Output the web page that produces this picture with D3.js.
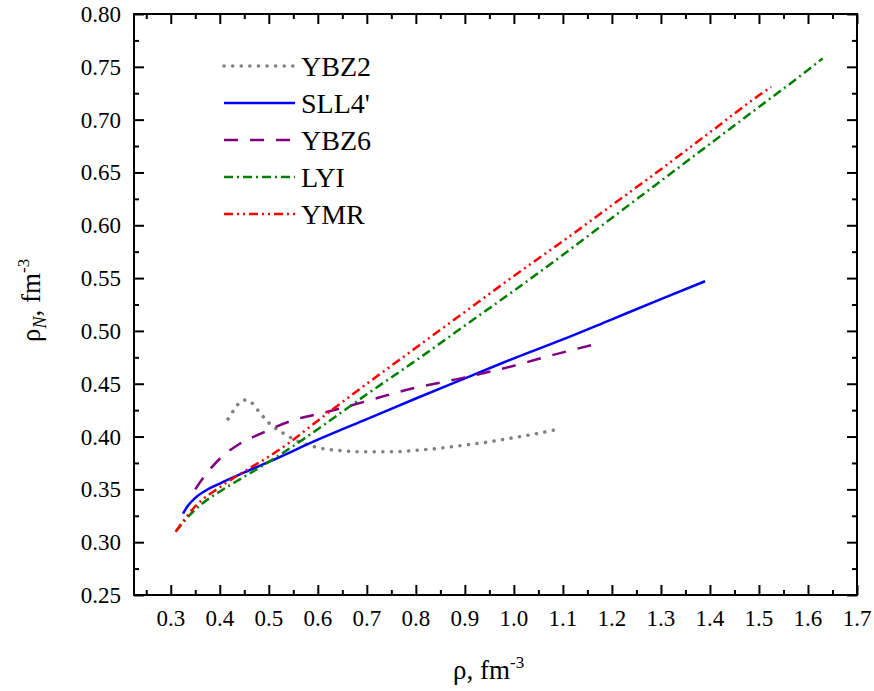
<!DOCTYPE html>
<html>
<head>
<meta charset="utf-8">
<script src="https://cdn.jsdelivr.net/npm/d3@7"></script>
</head>
<body style="margin:0">
<svg class="main" width="874" height="691"></svg>
<script>
// series values [rho, rho_N]
const ybz2 = [
  [0.417, 0.4166], [0.43, 0.426], [0.44, 0.432], [0.452, 0.4346], [0.465, 0.432],
  [0.48, 0.4235], [0.50, 0.413], [0.53, 0.403], [0.56, 0.3955], [0.60, 0.3895],
  [0.65, 0.3865], [0.70, 0.3855], [0.75, 0.3855], [0.80, 0.387], [0.85, 0.389],
  [0.90, 0.392], [0.95, 0.395], [1.00, 0.399], [1.05, 0.403], [1.09, 0.407]
];
const sll4 = [
  [0.325, 0.327], [0.335, 0.3345], [0.35, 0.342], [0.37, 0.3485], [0.40, 0.3555],
  [0.45, 0.366], [0.50, 0.376], [0.60, 0.397], [0.70, 0.4165],
  [0.80, 0.436], [0.90, 0.455], [1.00, 0.474], [1.10, 0.492], [1.20, 0.511],
  [1.30, 0.530], [1.39, 0.547]
];
const ybz6 = [
  [0.35, 0.350], [0.36, 0.357], [0.38, 0.369], [0.40, 0.379], [0.44, 0.393],
  [0.48, 0.402], [0.55, 0.4155], [0.62, 0.4235], [0.68, 0.431], [0.78, 0.444],
  [0.90, 0.456], [1.00, 0.467], [1.07, 0.476], [1.18, 0.489]
];
const lyi = [
  [0.31, 0.310], [0.35, 0.331], [0.40, 0.348], [0.45, 0.362], [0.50, 0.376],
  [0.55, 0.391], [0.60, 0.407], [0.70, 0.440], [0.80, 0.472], [0.90, 0.505],
  [1.00, 0.538], [1.10, 0.572], [1.20, 0.607], [1.30, 0.642], [1.40, 0.677],
  [1.50, 0.712], [1.60, 0.747], [1.63, 0.758]
];
const ymr = [
  [0.31, 0.310], [0.35, 0.334], [0.40, 0.352], [0.45, 0.367], [0.50, 0.381],
  [0.55, 0.397], [0.60, 0.415], [0.70, 0.450], [0.80, 0.484], [0.90, 0.518],
  [1.00, 0.552], [1.10, 0.585], [1.20, 0.619], [1.30, 0.653], [1.40, 0.688],
  [1.50, 0.723], [1.525, 0.731]
];

const seriesNames = ["YBZ2", "SLL4'", "YBZ6", "LYI", "YMR"];
const xTicks = [0.3, 0.4, 0.5, 0.6, 0.7, 0.8, 0.9, 1.0, 1.1, 1.2, 1.3, 1.4, 1.5, 1.6, 1.7];
const yTicks = [0.25, 0.30, 0.35, 0.40, 0.45, 0.50, 0.55, 0.60, 0.65, 0.70, 0.75, 0.80];

const styles = [
  { data: ybz2, color: "#808080", width: 3.5, dash: "0.1 8.5", cap: "round" },
  { data: sll4, color: "#0000ff", width: 2.5, dash: null, cap: "butt" },
  { data: ybz6, color: "#800080", width: 2.5, dash: "14 12", cap: "butt" },
  { data: lyi, color: "#008000", width: 2.5, dash: "9 4 2 4", cap: "butt" },
  { data: ymr, color: "#ff0000", width: 2.5, dash: "9 4 2 4 2 4", cap: "butt" }
];

const FONT = "Liberation Serif";
const box = { left: 134, right: 857, top: 14, bottom: 595 };

const x = d3.scaleLinear().domain([0.225, 1.7]).range([box.left, box.right]);
const y = d3.scaleLinear().domain([0.25, 0.80]).range([box.bottom, box.top]);

const svg = d3.select(".main");
const frame = svg.append("g").attr("font-family", FONT);

// tick labels drawn as plain text so no axis font attribute gets in the way
frame.selectAll("text.xlab").data(xTicks).join("text")
  .attr("class", "xlab")
  .attr("x", d => x(d)).attr("y", 626)
  .attr("text-anchor", "middle")
  .attr("font-family", FONT).attr("font-size", 23)
  .text(d3.format(".1f"));

frame.selectAll("text.ylab").data(yTicks).join("text")
  .attr("class", "ylab")
  .attr("x", 121).attr("y", d => y(d) + 8)
  .attr("text-anchor", "end")
  .attr("font-family", FONT).attr("font-size", 23)
  .text(d3.format(".2f"));

const xMinor = d3.range(0.25, 1.7, 0.1).map(v => +v.toFixed(2));
const yMinor = d3.range(0.275, 0.8, 0.05).map(v => +v.toFixed(3));

// ticks point inward on all four sides
function ticks(axis, tx, ty) {
  const g = svg.append("g").attr("transform", `translate(${tx},${ty})`).call(axis.tickFormat(""));
  g.select(".domain").remove();
  g.selectAll("line").attr("stroke", "#000").attr("stroke-width", 2);
}
ticks(d3.axisBottom(x).tickValues(xTicks).tickSize(-10), 0, box.bottom);
ticks(d3.axisBottom(x).tickValues(xMinor).tickSize(-5), 0, box.bottom);
ticks(d3.axisTop(x).tickValues(xTicks).tickSize(-10), 0, box.top);
ticks(d3.axisTop(x).tickValues(xMinor).tickSize(-5), 0, box.top);
ticks(d3.axisLeft(y).tickValues(yTicks).tickSize(-10), box.left, 0);
ticks(d3.axisLeft(y).tickValues(yMinor).tickSize(-5), box.left, 0);
ticks(d3.axisRight(y).tickValues(yTicks).tickSize(-10), box.right, 0);
ticks(d3.axisRight(y).tickValues(yMinor).tickSize(-5), box.right, 0);

svg.append("rect")
  .attr("x", box.left).attr("y", box.top)
  .attr("width", box.right - box.left).attr("height", box.bottom - box.top)
  .attr("fill", "none").attr("stroke", "#000").attr("stroke-width", 2);

// curves
const line = d3.line().x(d => x(d[0])).y(d => y(d[1])).curve(d3.curveMonotoneX);

styles.forEach(s => {
  svg.append("path")
    .datum(s.data)
    .attr("d", line)
    .attr("fill", "none")
    .attr("stroke", s.color)
    .attr("stroke-width", s.width)
    .attr("stroke-linecap", s.cap)
    .attr("stroke-dasharray", s.dash);
});

// legend
styles.forEach((s, i) => {
  const ly = 66 + i * 37;
  svg.append("line")
    .attr("x1", 224).attr("x2", 295).attr("y1", ly).attr("y2", ly)
    .attr("stroke", s.color)
    .attr("stroke-width", s.width)
    .attr("stroke-linecap", s.cap)
    .attr("stroke-dasharray", s.dash);
  svg.append("text")
    .attr("x", 301).attr("y", ly + 10)
    .attr("font-family", FONT).attr("font-size", 28)
    .text(seriesNames[i]);
});

// axis titles
const xTitle = svg.append("text")
  .attr("x", 453).attr("y", 679)
  .attr("font-family", FONT).attr("font-size", 27);
xTitle.append("tspan").text("ρ, fm");
xTitle.append("tspan").attr("font-size", 17).attr("dy", -11).text("-3");

const yTitle = svg.append("text")
  .attr("transform", "translate(40,342) rotate(-90)")
  .attr("font-family", FONT).attr("font-size", 27);
yTitle.append("tspan").text("ρ");
yTitle.append("tspan").attr("font-size", 18).attr("font-style", "italic").attr("dy", 6).text("N");
yTitle.append("tspan").attr("dy", -6).text(", fm");
yTitle.append("tspan").attr("font-size", 17).attr("dy", -11).text("-3");
</script>
</body>
</html>
